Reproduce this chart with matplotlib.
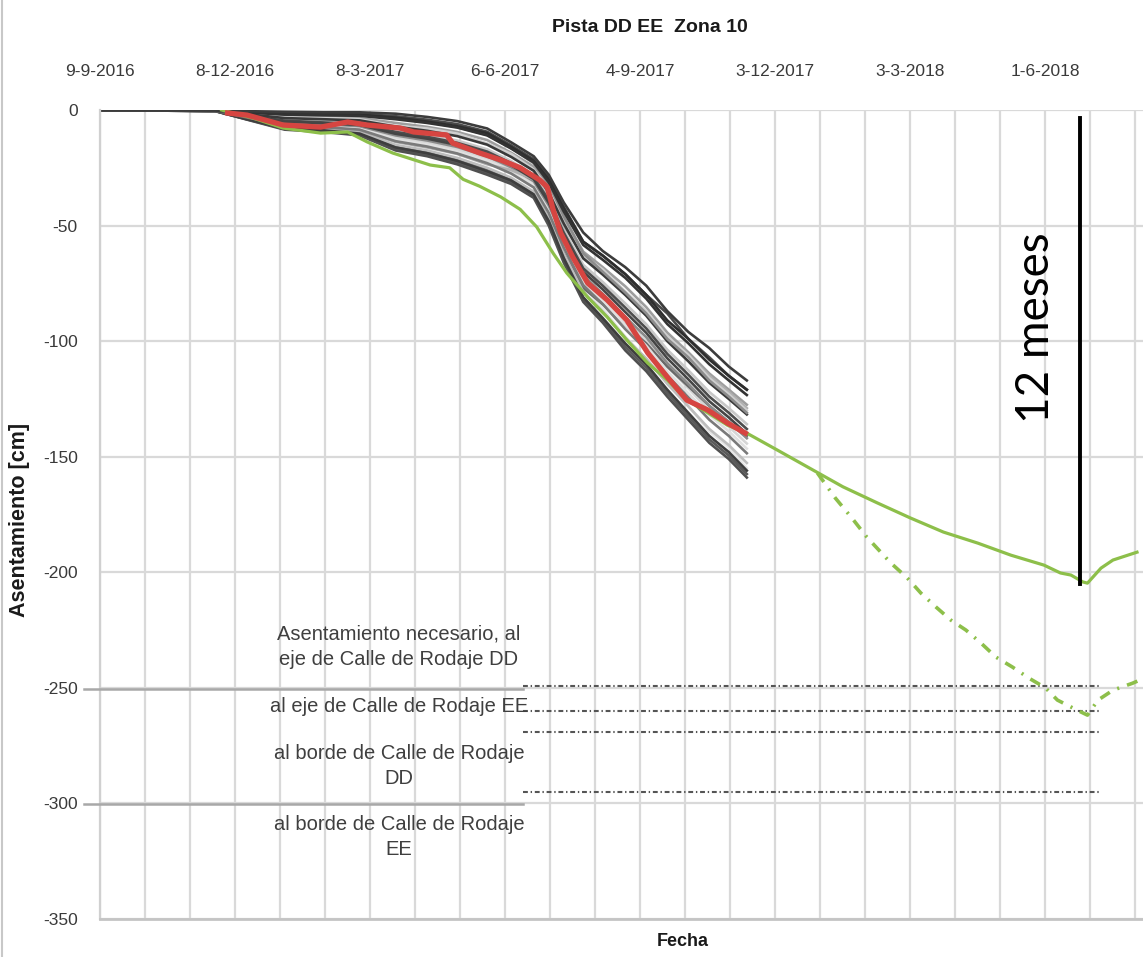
import matplotlib
matplotlib.use("Agg")
import matplotlib.pyplot as plt
import numpy as np
from matplotlib.lines import Line2D

plt.rcParams["axes.unicode_minus"] = False
plt.rcParams["lines.scale_dashes"] = False

NARROW = ["Liberation Sans Narrow", "Liberation Sans", "DejaVu Sans"]

# ---------------------------------------------------------------- data
title = "Pista DD EE  Zona 10"
x_label = "Fecha"
y_label = "Asentamiento [cm]"

tick_dates = ["2016-09-09", "2016-12-08", "2017-03-08", "2017-06-06",
              "2017-09-04", "2017-12-03", "2018-03-03", "2018-06-01"]
tick_labels = ["9-9-2016", "8-12-2016", "8-3-2017", "6-6-2017",
               "4-9-2017", "3-12-2017", "3-3-2018", "1-6-2018"]
y_ticks = [0, -50, -100, -150, -200, -250, -300, -350]
y_tick_labels = ["0", "-50", "-100", "-150", "-200", "-250", "-300", "-350"]

# survey dates shared by the individual settlement plates
survey_dates = ["2016-09-09", "2016-11-25", "2016-12-15", "2017-01-10",
                "2017-02-05", "2017-03-01", "2017-03-25", "2017-04-15",
                "2017-05-05", "2017-05-25", "2017-06-10", "2017-06-25",
                "2017-07-05", "2017-07-15", "2017-07-28", "2017-08-10",
                "2017-08-25", "2017-09-08", "2017-09-22", "2017-10-06",
                "2017-10-20", "2017-11-02", "2017-11-14"]

plate_01 = [0, 0, -0.5, -0.8, -1, -1, -1.6, -3, -4.8, -8, -14, -20, -28, -40, -53, -61, -68, -76, -87, -96, -103, -111, -117]
plate_02 = [0, 0, -0.8, -1.3, -1.6, -1.7, -2.7, -4.2, -6.1, -9.4, -15.3, -21.3, -29.5, -41.8, -57, -63, -71, -80, -88, -99, -107, -115, -121]
plate_03 = [0, -0.1, -1, -2, -2.3, -2.5, -4, -5.6, -7.6, -11, -16.7, -22.7, -31.3, -43.9, -58.4, -64.8, -72.6, -81.6, -92.6, -100.9, -110, -117, -123.3]
plate_04 = [0, -0.1, -1.4, -2.7, -3.1, -3.5, -5.6, -7.3, -9.5, -13, -18.5, -24.5, -33.5, -46.5, -61.3, -68, -76.3, -85.3, -96.3, -104.8, -114, -121, -127.5]
plate_05 = [0, -0.2, -1.7, -3.5, -4, -4.5, -7.2, -9, -11.3, -15, -20.3, -26.3, -35.7, -49.1, -64.2, -71.2, -80, -89, -100, -108.7, -118, -125, -131.7]
plate_06 = [0, -0.2, -2.1, -4.3, -4.8, -5.5, -8.8, -10.7, -13.2, -17, -22.1, -28.1, -37.9, -51.7, -67, -74.4, -83.7, -92.7, -103.7, -112.6, -122, -129, -135.9]
plate_07 = [0, -0.3, -2.4, -5, -5.7, -6.5, -10.3, -12.4, -15.1, -19, -23.9, -29.9, -40.1, -54.3, -70, -77.6, -87.4, -96.4, -107.4, -116.5, -126, -133, -140.1]
plate_08 = [0, -0.3, -2.8, -5.8, -6.5, -7.5, -11.9, -14.1, -17, -21, -25.7, -31.7, -42.3, -56.9, -72.9, -80.8, -91, -100, -111, -120.4, -130, -137, -144.3]
plate_09 = [0, -0.4, -3.1, -6.6, -7.4, -8.5, -13.5, -15.8, -18.8, -23, -27.5, -33.5, -44.5, -59.5, -75.8, -84, -94.8, -103.8, -114.8, -124.3, -134, -141, -148.5]
plate_10 = [0, -0.4, -3.5, -7.3, -8.2, -9.5, -15.1, -17.5, -20.7, -25, -29.3, -35.3, -46.7, -62.1, -78.7, -87.2, -98.5, -107.5, -118.5, -128.2, -138, -145, -152.7]
plate_11 = [0, -0.5, -4, -8.5, -9.5, -11, -17.5, -20, -23.5, -28, -32, -38, -50, -66, -83, -92, -104, -113, -124, -134, -144, -151, -159]
plate_12 = [0, -0.4, -3.2, -6.8, -7.6, -8.8, -13.8, -16.2, -19, -23.5, -26, -30, -38, -50, -63, -70, -79, -88, -98, -106, -115, -122, -129]
plate_13 = [0, -0.3, -2.2, -4.6, -5.2, -6, -9.6, -11.5, -14, -18, -23, -29, -41, -57, -76, -86, -98, -108, -118, -128, -139, -146, -155]
plate_14 = [0, 0, -0.9, -1.6, -1.9, -2, -3.3, -5, -7, -10, -16, -22, -30, -42.5, -57, -63, -71, -80, -91, -99, -108, -115, -121]
plate_15 = [0, -0.3, -2.6, -5.4, -6.1, -7, -11, -13.2, -16, -20, -24.8, -30.8, -41.2, -55.6, -71.5, -79.5, -89.5, -98.3, -109.5, -118.5, -128, -135, -142]
plate_16 = [0, -0.5, -3.8, -7.9, -8.8, -10.2, -16.2, -18.7, -22, -26.5, -30.5, -36.5, -48, -64, -81, -90, -101, -110, -121, -131, -141, -148, -156]
plate_17 = [0, -0.1, -1.5, -3.1, -3.4, -4, -6.8, -8, -10.2, -14.5, -19, -25.8, -34, -47, -63, -69, -78.5, -87, -98, -106, -116, -123, -130]
plate_18 = [0, -0.2, -2.3, -4.6, -5.4, -6, -9.5, -11.6, -14.2, -18, -23, -29, -39, -53, -68.5, -76, -85.5, -94.5, -105.5, -114.5, -124, -131, -138]
plate_19 = [0, -0.3, -2.9, -6.2, -7, -8, -12.8, -15, -18, -22, -26.5, -32.5, -43.5, -58, -74.5, -82.5, -93, -102, -113, -122.5, -132, -139, -146.5]
plate_20 = [0, -0.5, -3.9, -8.2, -9.2, -10.6, -17, -19.4, -22.8, -27.3, -31.2, -37.2, -49, -65, -82, -91, -102.5, -111.5, -122.5, -132.5, -142.5, -149.5, -157.5]
plate_21 = [0, -0.1, -0.9, -1.8, -2, -2.2, -3.6, -5.3, -7.4, -10.8, -16.5, -23, -32, -46, -62, -70, -79, -88, -99, -107, -117, -124, -131]
plate_22 = [0, -0.4, -3.6, -7.7, -8.6, -9.8, -15.6, -18, -21.5, -26, -30, -36, -47, -62, -77, -84, -93, -101, -111, -119.5, -128, -135, -141]

plates = [plate_13, plate_20, plate_08, plate_06, plate_22, plate_10, plate_04,
          plate_19, plate_15, plate_12, plate_18, plate_11, plate_16, plate_09,
          plate_07, plate_17, plate_05, plate_21, plate_02, plate_14, plate_03,
          plate_01]
plate_colors = ["#e6e6e6", "#5a5a5a", "#d6d6d6", "#c8c8c8", "#6a6a6a", "#bdbdbd", "#9e9e9e",
                "#e0e0e0", "#8a8a8a", "#b0b0b0", "#4d4d4d", "#505050", "#3e3e3e", "#7a7a7a",
                "#454545", "#cfcfcf", "#3a3a3a", "#8c8c8c", "#4a4a4a", "#2e2e2e",
                "#333333", "#3c3c3c"]

# average of the plates
mean_dates = ["2016-12-03", "2016-12-16", "2017-01-09", "2017-02-03", "2017-02-21",
              "2017-03-06", "2017-03-28", "2017-04-06", "2017-04-28", "2017-05-02",
              "2017-05-20", "2017-06-03", "2017-06-16", "2017-06-29", "2017-07-04",
              "2017-07-08", "2017-07-13", "2017-07-21", "2017-07-31", "2017-08-13",
              "2017-08-26", "2017-09-09", "2017-09-22", "2017-10-05", "2017-10-19",
              "2017-11-01", "2017-11-13"]
mean_values = [-1.3, -2.2, -6.5, -7.4, -5.2, -6.5, -7.8, -9.5, -10.8, -14.3, -18.6,
               -21.6, -25, -30.3, -33.3, -43.3, -53.2, -63.6, -74.9, -82.2, -90.9,
               -105.1, -115.5, -125.5, -129.8, -135.4, -139.8]

# fitted settlement curve
fit_dates = ["2016-11-29", "2016-12-20", "2017-01-09", "2017-02-03", "2017-02-21",
             "2017-03-06", "2017-03-23", "2017-04-17", "2017-04-30", "2017-05-09",
             "2017-05-20", "2017-06-03", "2017-06-16", "2017-06-27", "2017-07-08",
             "2017-07-17", "2017-07-31", "2017-08-13", "2017-08-26", "2017-09-09",
             "2017-09-22", "2017-10-05", "2017-10-19", "2017-11-01", "2017-11-14",
             "2017-12-04", "2017-12-26", "2018-01-17", "2018-02-09", "2018-03-03",
             "2018-03-25", "2018-04-17", "2018-05-09", "2018-05-31", "2018-06-11",
             "2018-06-18", "2018-06-26", "2018-06-29", "2018-07-08", "2018-07-16",
             "2018-08-01"]
fit_values = [0, -3.5, -7.8, -10, -9.5, -13.8, -18.6, -23.8, -25, -30, -33, -37.6,
              -43, -50.6, -62, -70.5, -81, -89.6, -99.5, -109.5, -116.8, -125.5, -131,
              -136.3, -139.8, -147, -155, -163, -170, -176.5, -182.6, -187.4, -192.6,
              -196.9, -200.3, -201.2, -204.2, -204.7, -198.2, -194.7, -191.3]

# accelerated projection
proj_dates = ["2017-12-31", "2018-01-12", "2018-01-23", "2018-02-02", "2018-02-18",
              "2018-03-01", "2018-03-10", "2018-03-20", "2018-03-30", "2018-04-09",
              "2018-04-19", "2018-04-29", "2018-05-10", "2018-05-21", "2018-06-01",
              "2018-06-09", "2018-06-22", "2018-06-29", "2018-07-06", "2018-07-16",
              "2018-07-29", "2018-08-03"]
proj_values = [-157, -167.9, -176.5, -184.8, -196, -202.5, -209, -215, -220.7, -225,
               -230.6, -236.7, -241, -245.8, -250, -255.3, -259.6, -261.8, -255.3,
               -251, -248, -246.6]

# required settlement levels
req_levels = [-249, -260, -269, -295]
req_start = "2017-06-18"
req_end = "2018-07-08"
req_labels = ["Asentamiento necesario, al\neje de Calle de Rodaje DD",
              "al eje de Calle de Rodaje EE",
              "al borde de Calle de Rodaje\nDD",
              "al borde de Calle de Rodaje\nEE"]

# 12-month marker
marker_date = "2018-06-24"
marker_top = -3.5
marker_bottom = -205
marker_text = "12 meses"

x_min = "2016-09-09"
x_max = "2018-08-05"

# ---------------------------------------------------------------- figure
W, H = 1143, 957
fig = plt.figure(figsize=(W / 100, H / 100), dpi=100)
ax = fig.add_axes([100 / W, 1 - 919 / H, 1 - 100 / W, (919 - 110) / H])


def d(s):
    return np.array(s, dtype="datetime64[D]")


ax.set_xlim(d(x_min), d(x_max))
ax.set_ylim(-350, 0)

# grid: monthly verticals, 50 cm horizontals
ax.set_xticks(d(tick_dates))
ax.set_xticklabels(tick_labels)
ax.set_xticks(np.arange(d(x_min), d(x_max), 30), minor=True)
ax.set_yticks(y_ticks)
ax.set_yticklabels(y_tick_labels)
ax.grid(which="both", color="#d9d9d9", lw=1.6, zorder=0)
ax.set_axisbelow(True)
ax.xaxis.set_ticks_position("top")
ax.tick_params(axis="x", which="both", length=0, pad=22, labelsize=12.5,
               labelcolor="#3a3a3a")
ax.tick_params(axis="y", which="both", length=0, pad=16, labelsize=12.5,
               labelcolor="#3a3a3a")
for lab in ax.get_xticklabels() + ax.get_yticklabels():
    lab.set_family(NARROW)

for side in ("top", "right"):
    ax.spines[side].set_visible(False)
ax.spines["left"].set_color("#d0d0d0")
ax.spines["left"].set_linewidth(1.6)
ax.spines["bottom"].set_color("#c4c4c4")
ax.spines["bottom"].set_linewidth(2.0)

# darker borders of the label cells at -250 and -300
for py in (689, 804):
    fig.add_artist(Line2D([84 / W, 523 / W], [1 - py / H, 1 - py / H],
                          color="#a8a8a8", lw=1.8))

# individual plates
sd = d(survey_dates)
for vals, col in zip(plates, plate_colors):
    ax.plot(sd, vals, color=col, lw=1.9, zorder=2, solid_joinstyle="round")

# fitted curve and projection
ax.plot(d(fit_dates), fit_values, color="#8dbf4a", lw=2.3, zorder=3)
ax.plot(d(proj_dates), proj_values, color="#8dbf4a", lw=2.6, zorder=3,
        linestyle=(0, (8, 6, 1.5, 6)))

# mean of plates
ax.plot(d(mean_dates), mean_values, color="#d64541", lw=3.8, zorder=4,
        solid_joinstyle="round")

# required settlement levels
for lvl in req_levels:
    ax.plot(d([req_start, req_end]), [lvl, lvl], color="#555555", lw=1.5,
            linestyle=(0, (3.5, 2, 1, 2)), zorder=2)

# level labels
label_y = [647, 706, 766, 837]
for txt, py in zip(req_labels, label_y):
    fig.text(399 / W, 1 - py / H, txt, ha="center", va="center",
             fontsize=14.5, family=NARROW, color="#3f3f3f", linespacing=1.45)

# 12-month marker
ax.plot(d([marker_date, marker_date]), [marker_top, marker_bottom],
        color="black", lw=2.8, zorder=5)
ax.text(d("2018-05-26"), -94.3, marker_text, rotation=90, ha="center",
        va="center", fontsize=33, family=["Lato", "DejaVu Sans"], color="black")

# titles
fig.text(650 / W, 1 - 27 / H, title, ha="center", va="center", fontsize=14,
         fontweight="bold", family=NARROW, color="#1a1a1a")
fig.text(683 / W, 1 - 942 / H, x_label, ha="center", va="center", fontsize=13,
         fontweight="bold", family=NARROW, color="#1a1a1a")
fig.text(20 / W, 1 - 520 / H, y_label, ha="center", va="center", fontsize=15.5,
         fontweight="bold", family=NARROW, color="#1a1a1a", rotation=90)

# frame edge on the left
fig.add_artist(Line2D([1.5 / W, 1.5 / W], [0, 1], color="#c8c8c8", lw=1.5))

fig.savefig("out.png", dpi=100)
